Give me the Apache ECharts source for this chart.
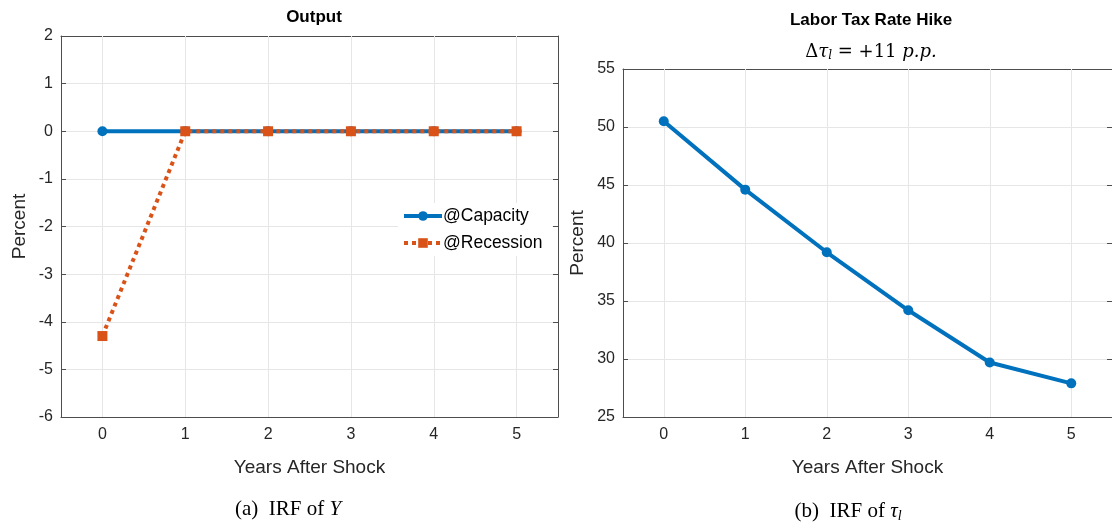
<!DOCTYPE html>
<html><head><meta charset="utf-8">
<script src="https://cdn.jsdelivr.net/npm/echarts@6/dist/echarts.min.js"></script>
<style>html,body{margin:0;padding:0;background:#fff}#c{width:1112px;height:523px}</style>
</head><body><div id="c"></div>
<script>
const years = [0, 1, 2, 3, 4, 5];
const outputCapacity = [0, 0, 0, 0, 0, 0];
const outputRecession = [-4.3, 0, 0, 0, 0, 0];
const laborTax = [50.5, 44.6, 39.2, 34.2, 29.7, 27.9];
const xTicks = [0, 1, 2, 3, 4, 5];
const leftYTicks = [-6, 2, 1];   // min, max, interval
const rightYTicks = [25, 55, 5];

const BLUE = '#0072BD', ORANGE = '#D95319';
const AX = '#4d4d4d', TXT = '#262626', GRID = '#e6e6e6';
const FONT = '"Liberation Sans", Arial, sans-serif';

function pairs(xs, ys) { return xs.map((x, i) => [x, ys[i]]); }

function xAx(gi) {
  return [{
    gridIndex: gi, type: 'value', min: -0.5, max: 5.5,
    axisLine: { onZero: false, lineStyle: { color: AX, width: 1 } },
    axisTick: { inside: true, length: 5, customValues: xTicks, lineStyle: { color: AX } },
    axisLabel: { color: TXT, fontSize: 16, fontFamily: FONT, margin: 10, customValues: xTicks },
    splitLine: { show: false },
    name: 'Years After Shock', nameLocation: 'middle', nameGap: 41,
    nameTextStyle: { color: TXT, fontSize: 19, fontFamily: FONT }
  }, {
    gridIndex: gi, type: 'value', position: 'top', min: -0.5, max: 5.5,
    axisLine: { onZero: false, lineStyle: { color: AX } },
    axisTick: { inside: true, length: 5, customValues: xTicks, lineStyle: { color: AX } },
    axisLabel: { show: false }, splitLine: { show: false }
  }];
}
function yAx(gi, t, gap) {
  return [{
    gridIndex: gi, type: 'value', min: t[0], max: t[1], interval: t[2],
    axisLine: { show: true, onZero: false, lineStyle: { color: AX } },
    axisTick: { show: true, inside: true, length: 5, lineStyle: { color: AX } },
    axisLabel: { color: TXT, fontSize: 16, fontFamily: FONT, margin: 8 },
    splitLine: { show: true, lineStyle: { color: GRID } },
    name: 'Percent', nameLocation: 'middle', nameGap: gap,
    nameTextStyle: { color: TXT, fontSize: 19, fontFamily: FONT }
  }, {
    gridIndex: gi, type: 'value', position: 'right', min: t[0], max: t[1], interval: t[2],
    axisLine: { show: true, onZero: false, lineStyle: { color: AX } },
    axisTick: { show: true, inside: true, length: 5, lineStyle: { color: AX } },
    axisLabel: { show: false }, splitLine: { show: false }
  }];
}
function vGrid(xAxisIndex, yAxisIndex) {
  return { type: 'line', xAxisIndex, yAxisIndex, data: [], silent: true, z: 1,
    markLine: { silent: true, z: 1, symbol: 'none', animation: false, label: { show: false },
      lineStyle: { color: GRID, type: 'solid', width: 1 },
      data: xTicks.map(v => ({ xAxis: v })) } };
}

const serif = '"Liberation Serif", serif';
const chart = echarts.init(document.getElementById('c'), null, { renderer: 'canvas' });
chart.setOption({
  animation: false,
  backgroundColor: '#fff',
  textStyle: { fontFamily: FONT },
  title: [
    { text: 'Output', left: 309, top: 4, textAlign: 'center',
      textStyle: { fontSize: 17, fontWeight: 'bold', color: '#000', fontFamily: FONT } },
    { text: 'Labor Tax Rate Hike', left: 866, top: 7, textAlign: 'center',
      textStyle: { fontSize: 17, fontWeight: 'bold', color: '#000', fontFamily: FONT } },
    { text: '{n|Δ}{i|τ}{s|l}{n| = +11 }{i|p.p.}', left: 866, top: 37, textAlign: 'center',
      textStyle: { fontWeight: 'normal', rich: {
        n: { fontFamily: '"DejaVu Serif", serif', fontWeight: 'normal', fontSize: 18, color: '#000' },
        i: { fontFamily: '"DejaVu Serif", serif', fontWeight: 'normal', fontStyle: 'italic', fontSize: 18, color: '#000' },
        s: { fontFamily: '"DejaVu Serif", serif', fontWeight: 'normal', fontStyle: 'italic', fontSize: 12, color: '#000', verticalAlign: 'bottom', padding: [8, 0, 0, 0] }
      } } },
    { text: '{n|(a)  IRF of }{i|Y}', left: 283, top: 494, textAlign: 'center',
      textStyle: { fontWeight: 'normal', rich: {
        n: { fontFamily: serif, fontWeight: 'normal', fontSize: 21, color: '#000' },
        i: { fontFamily: serif, fontWeight: 'normal', fontStyle: 'italic', fontSize: 21, color: '#000' }
      } } },
    { text: '{n|(b)  IRF of }{i|τ}{s|l}', left: 843, top: 494, textAlign: 'center',
      textStyle: { fontWeight: 'normal', rich: {
        n: { fontFamily: serif, fontWeight: 'normal', fontSize: 21, color: '#000' },
        i: { fontFamily: serif, fontWeight: 'normal', fontStyle: 'italic', fontSize: 21, color: '#000' },
        s: { fontFamily: serif, fontWeight: 'normal', fontStyle: 'italic', fontSize: 14, color: '#000', verticalAlign: 'bottom', padding: [10, 0, 0, 0] }
      } } }
  ],
  legend: {
    data: [
      { name: '@Capacity', lineStyle: { width: 4 } },
      { name: '@Recession', lineStyle: { width: 4 } }
    ],
    orient: 'vertical', left: 398, top: 203,
    itemWidth: 38, itemHeight: 12, itemGap: 9,
    backgroundColor: '#fff', padding: [4, 10, 4, 4],
    textStyle: { color: '#000', fontSize: 17.5, fontFamily: FONT, padding: [0, 0, 0, -4] }
  },
  grid: [
    { left: 61, top: 36, width: 497, height: 381 },
    { left: 623, top: 69, width: 495, height: 348 }
  ],
  xAxis: [...xAx(0), ...xAx(1)],
  yAxis: [...yAx(0, leftYTicks, 32), ...yAx(1, rightYTicks, 36)],
  series: [
    vGrid(0, 0), vGrid(2, 2),
    { name: '@Capacity', type: 'line', xAxisIndex: 0, yAxisIndex: 0,
      data: pairs(years, outputCapacity), symbol: 'circle', symbolSize: 10,
      lineStyle: { color: BLUE, width: 4 }, itemStyle: { color: BLUE }, z: 4 },
    { name: '@Recession', type: 'line', xAxisIndex: 0, yAxisIndex: 0,
      data: pairs(years, outputRecession), symbol: 'rect', symbolSize: 10,
      lineStyle: { color: ORANGE, width: 4, type: [4, 4] }, itemStyle: { color: ORANGE }, z: 5 },
    { name: 'tau', type: 'line', xAxisIndex: 2, yAxisIndex: 2,
      data: pairs(years, laborTax), symbol: 'circle', symbolSize: 10,
      lineStyle: { color: BLUE, width: 4 }, itemStyle: { color: BLUE }, z: 4 }
  ]
});
</script></body></html>
